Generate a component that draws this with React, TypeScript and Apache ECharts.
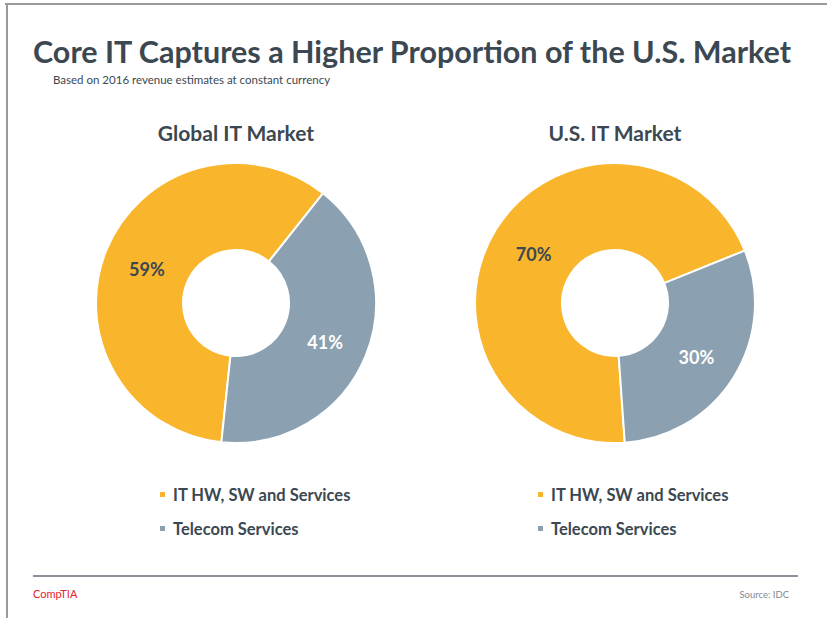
import React, { useEffect, useRef } from "react";
import * as echarts from "echarts";

const categories = ["IT HW, SW and Services", "Telecom Services"];
const globalValues = [59, 41];
const usValues = [70, 30];
const chartTitles = ["Global IT Market", "U.S. IT Market"];
const colors = ["#F9B52B", "#8BA0B0"];

const TEXT = "#3B4852";
const FONT = "Lato";

export default function App() {
  const ref = useRef<HTMLDivElement>(null);
  useEffect(() => {
    if (!ref.current) return;
    const chart = echarts.init(ref.current, null, { renderer: "svg" });
    const labelOffsets = [
      [3, 4],
      [-3, 1],
    ];
    const mkData = (vals: number[]) =>
      vals.map((v, i) => ({
        name: categories[i],
        value: v,
        label: { color: i === 0 ? TEXT : "#FFFFFF", offset: labelOffsets[i] },
      }));
    const pieBase = {
      type: "pie",
      radius: [53, 140],
      clockwise: true,
      avoidLabelOverlap: false,
      itemStyle: { borderColor: "#FFFFFF", borderWidth: 2 },
      label: {
        show: true,
        position: "inside",
        formatter: "{c}%",
        fontFamily: FONT,
        fontWeight: "bold",
        fontSize: 18,
      },
      labelLine: { show: false },
      emphasis: { disabled: true },
    };
    const legendBase = {
      orient: "vertical",
      icon: "rect",
      itemWidth: 7,
      itemHeight: 7,
      itemGap: 17,
      padding: 0,
      data: categories,
      textStyle: {
        color: TEXT,
        fontFamily: FONT,
        fontWeight: "bold",
        fontSize: 16.5,
        padding: [0, 0, 0, 2],
      },
      selectedMode: false,
    };
    chart.setOption({
      animation: false,
      color: colors,
      title: [
        {
          text: "Core IT Captures a Higher Proportion of the U.S. Market",
          left: 33,
          top: 35,
          padding: 0,
          textStyle: { color: TEXT, fontFamily: FONT, fontWeight: "bold", fontSize: 30.5 },
        },
        {
          text: "Based on 2016 revenue estimates at constant currency",
          left: 53,
          top: 73,
          padding: 0,
          textStyle: { color: TEXT, fontFamily: FONT, fontWeight: "normal", fontSize: 11.5 },
        },
        {
          text: chartTitles[0],
          left: 236,
          top: 122,
          padding: 0,
          textAlign: "center",
          textStyle: { color: TEXT, fontFamily: FONT, fontWeight: "bold", fontSize: 21 },
        },
        {
          text: chartTitles[1],
          left: 615,
          top: 122,
          padding: 0,
          textAlign: "center",
          textStyle: { color: TEXT, fontFamily: FONT, fontWeight: "bold", fontSize: 21 },
        },
        {
          text: "CompTIA",
          left: 33,
          top: 588,
          padding: 0,
          textStyle: { color: "#E8232B", fontFamily: FONT, fontWeight: "normal", fontSize: 11 },
        },
        {
          text: "Source: IDC",
          right: 38,
          top: 589,
          padding: 0,
          textStyle: { color: "#7F878E", fontFamily: FONT, fontWeight: "normal", fontSize: 9.5 },
        },
      ],
      legend: [
        { ...legendBase, left: 158, top: 486 },
        { ...legendBase, left: 536, top: 486 },
      ],
      series: [
        { ...pieBase, name: chartTitles[0], center: [236, 303], startAngle: 264, data: mkData(globalValues) },
        { ...pieBase, name: chartTitles[1], center: [615, 303], startAngle: 274, data: mkData(usValues) },
      ],
      graphic: [
        { type: "line", shape: { x1: 5, y1: 4, x2: 827, y2: 4 }, style: { stroke: "#9A9A9A", lineWidth: 2 } },
        { type: "line", shape: { x1: 7, y1: 4, x2: 7, y2: 618 }, style: { stroke: "#9A9A9A", lineWidth: 2 } },
        { type: "line", shape: { x1: 33, y1: 576, x2: 798, y2: 576 }, style: { stroke: "#8A9199", lineWidth: 2 } },
      ],
    });
    return () => chart.dispose();
  }, []);
  return (
    <div
      ref={ref}
      style={{ position: "fixed", left: 0, top: 0, width: 827, height: 618, background: "#FFFFFF" }}
    />
  );
}
